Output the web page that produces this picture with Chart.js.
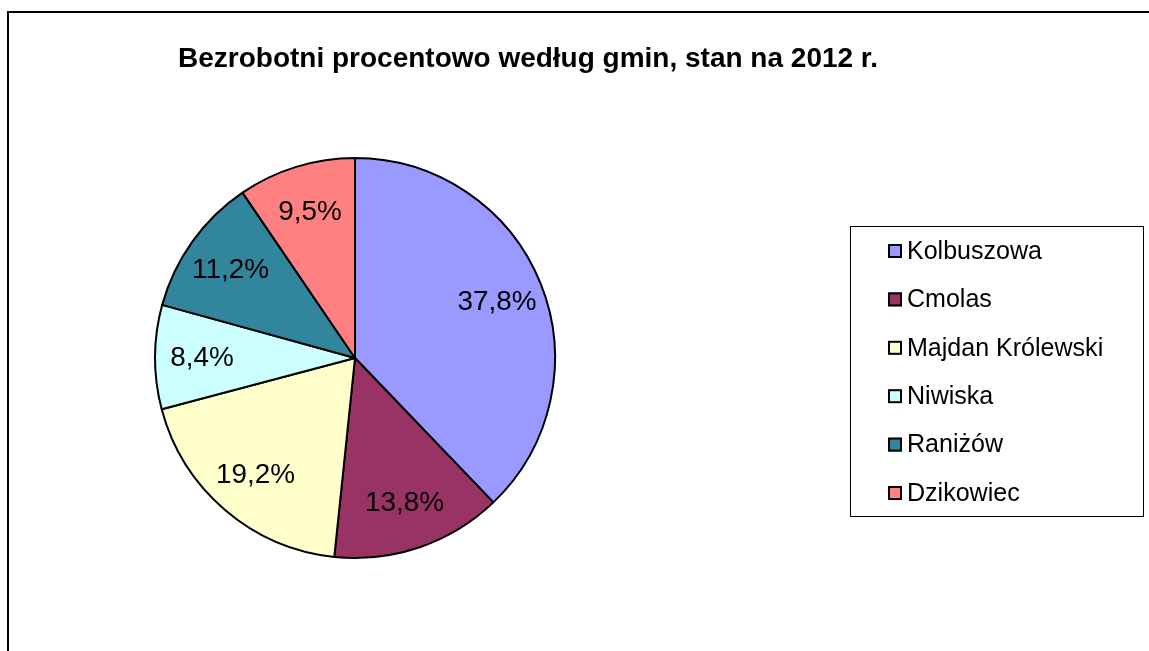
<!DOCTYPE html>
<html>
<head>
<meta charset="utf-8">
<script src="https://cdn.jsdelivr.net/npm/chart.js@4"></script>
<style>
  body { margin: 0; background: #fff; }
  canvas { display: block; }
</style>
</head>
<body>
<canvas id="myChart" width="1149" height="651"></canvas>
<script>
let gminy = ['Kolbuszowa', 'Cmolas', 'Majdan Królewski', 'Niwiska', 'Raniżów', 'Dzikowiec'];
let procenty = [37.8, 13.8, 19.2, 8.4, 11.2, 9.5];
let etykiety = ['37,8%', '13,8%', '19,2%', '8,4%', '11,2%', '9,5%'];
let kolory = ['#9999FF', '#993366', '#FFFFCC', '#CCFFFF', '#31859C', '#FF8080'];
let tytul = 'Bezrobotni procentowo według gmin, stan na 2012 r.';

const FONT = '"Liberation Sans", Arial, sans-serif';

// draws text squeezed/stretched so its width matches the reference
function fitText(ctx, text, x, y, font, sx) {
  ctx.save();
  ctx.font = font;
  ctx.translate(x, y);
  ctx.scale(sx, 1);
  ctx.fillText(text, 0, 0);
  ctx.restore();
}

function scaleFor(ctx, font, text, target) {
  ctx.font = font;
  return target / ctx.measureText(text).width;
}

const extras = {
  id: 'extras',
  afterDraw(chart) {
    const ctx = chart.ctx;
    ctx.save();

    // frame (left + top)
    ctx.strokeStyle = '#000';
    ctx.lineWidth = 2;
    ctx.beginPath();
    ctx.moveTo(8, 651);
    ctx.lineTo(8, 12);
    ctx.lineTo(1149, 12);
    ctx.stroke();

    // title
    ctx.fillStyle = '#000';
    ctx.textBaseline = 'alphabetic';
    ctx.textAlign = 'left';
    const tFont = 'bold 27px ' + FONT;
    fitText(ctx, tytul, 178, 67, tFont, scaleFor(ctx, tFont, tytul, 700));

    // percentage labels inside slices
    const lFont = '28px ' + FONT;
    const lsx = scaleFor(ctx, lFont, '37,8%', 79);
    ctx.textBaseline = 'middle';
    chart.getDatasetMeta(0).data.forEach((arc, i) => {
      const p = arc.getProps(['x', 'y', 'startAngle', 'endAngle', 'outerRadius'], true);
      const mid = (p.startAngle + p.endAngle) / 2;
      const d = p.outerRadius * 0.765;
      const cx = p.x + Math.cos(mid) * d;
      const cy = p.y + Math.sin(mid) * d;
      ctx.font = lFont;
      const w = ctx.measureText(etykiety[i]).width * lsx;
      fitText(ctx, etykiety[i], cx - w / 2, cy + 1, lFont, lsx);
    });

    // legend
    ctx.lineWidth = 1;
    ctx.strokeStyle = '#000';
    ctx.strokeRect(850.5, 226.5, 293, 290);
    const gFont = '25px ' + FONT;
    const gsx = scaleFor(ctx, gFont, 'Kolbuszowa', 135);
    gminy.forEach((g, i) => {
      const y = 251 + i * 48.4;
      ctx.fillStyle = kolory[i];
      ctx.fillRect(888, y - 7, 14, 14);
      ctx.lineWidth = 2;
      ctx.strokeRect(889, y - 6, 12, 12);
      ctx.fillStyle = '#000';
      fitText(ctx, g, 907, y + 1, gFont, gsx);
    });

    ctx.restore();
  }
};

function renderChart() {
  const data = {
    labels: gminy,
    datasets: [{
      data: procenty,
      backgroundColor: kolory,
      borderColor: '#000',
      borderWidth: 2
    }]
  };

  const options = {
    responsive: false,
    animation: false,
    events: [],
    devicePixelRatio: 1,
    layout: {
      padding: { left: 154, top: 157, right: 593, bottom: 92 }
    },
    plugins: {
      legend: { display: false },
      title: { display: false },
      tooltip: { enabled: false }
    }
  };

  const config = {
    type: 'pie',
    data: data,
    options: options,
    plugins: [extras]
  };

  const ctx = document.getElementById('myChart').getContext('2d');
  new Chart(ctx, config);
}

renderChart();
</script>
</body>
</html>
